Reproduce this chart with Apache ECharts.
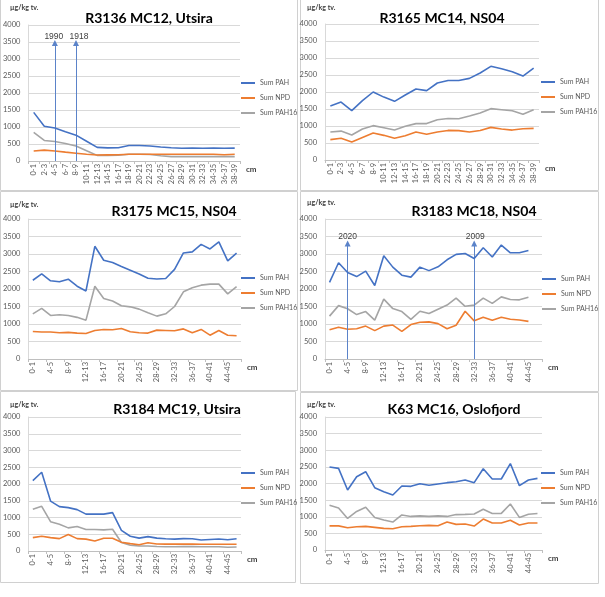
<!DOCTYPE html>
<html><head><meta charset="utf-8">
<script src="https://cdn.jsdelivr.net/npm/echarts/dist/echarts.min.js"></script>
<style>html,body{margin:0;padding:0;background:#fff}#c{width:605px;height:597px}</style>
</head><body><div id="c"></div><script>
// ---- categories (depth intervals, cm) ----
const cats20 = ['0-1','2-3','4-5','6-7','8-9','10-11','12-13','14-15','16-17','18-19','20-21','22-23','24-25','26-27','28-29','30-31','32-33','34-35','36-37','38-39'];
const cats24 = ['0-1','2-3','4-5','6-7','8-9','10-11','12-13','14-15','16-17','18-19','20-21','22-23','24-25','26-27','28-29','30-31','32-33','34-35','36-37','38-39','40-41','42-43','44-45','46-47'];
const yTicks = [0,500,1000,1500,2000,2500,3000,3500,4000];
const seriesNames = ['Sum PAH','Sum NPD','Sum PAH16'];
const titles = ['R3136 MC12, Utsira','R3165 MC14, NS04','R3175 MC15, NS04','R3183 MC18, NS04','R3184 MC19, Utsira','K63 MC16, Oslofjord'];
const yUnit = 'µg/kg tv.';
const xUnit = 'cm';

// ---- values (µg/kg tv.) ----
const pah1 = [1430,1020,970,860,760,580,400,385,390,455,455,440,410,390,375,380,375,380,375,380];
const npd1 = [295,320,295,260,230,200,175,180,185,200,200,200,200,200,200,200,200,200,185,200];
const p16_1 = [845,605,575,515,440,300,165,165,170,200,200,190,155,130,130,130,130,130,130,130];

const pah2 = [1590,1705,1450,1745,2000,1850,1725,1910,2090,2040,2265,2340,2340,2400,2560,2755,2685,2595,2470,2705];
const npd2 = [600,640,530,665,795,725,640,715,825,755,825,870,865,825,870,960,910,880,920,930];
const p16_2 = [825,850,735,910,1010,950,880,990,1070,1070,1185,1220,1215,1295,1385,1510,1480,1450,1345,1480];

const pah3 = [2250,2430,2235,2205,2280,2080,1945,3220,2820,2755,2640,2535,2430,2305,2285,2300,2560,3030,3060,3275,3145,3345,2805,3025];
const npd3 = [785,770,770,750,760,740,730,815,845,835,870,780,750,740,825,815,805,860,750,845,680,815,680,665];
const p16_3 = [1290,1445,1245,1265,1245,1190,1110,2080,1730,1655,1520,1490,1425,1320,1225,1290,1500,1920,2035,2110,2140,2140,1860,2070];

const pah4 = [2190,2750,2470,2355,2510,2100,2950,2625,2395,2340,2625,2525,2635,2835,2990,3015,2870,3180,2915,3255,3035,3035,3100,null];
const npd4 = [835,905,850,865,940,810,940,970,790,985,1050,1060,1010,865,965,1365,1090,1195,1105,1195,1135,1115,1075,null];
const p16_4 = [1225,1525,1435,1270,1355,1110,1710,1440,1355,1130,1365,1300,1420,1540,1740,1505,1540,1740,1590,1775,1700,1690,1765,null];

const pah5 = [2100,2350,1490,1325,1295,1235,1100,1105,1100,1145,615,440,385,430,385,365,355,370,365,330,345,360,335,365];
const npd5 = [400,440,400,370,490,370,355,300,380,380,260,220,185,245,210,205,205,205,205,200,200,200,200,200];
const p16_5 = [1245,1335,875,800,690,730,640,640,630,650,255,170,150,150,135,125,125,130,130,125,125,125,110,120];

const pah6 = [2495,2455,1805,2205,2355,1875,1755,1655,1925,1915,1995,1945,1985,2025,2055,2105,2025,2445,2135,2135,2600,1935,2105,2155];
const npd6 = [725,725,670,700,710,680,650,640,700,710,730,740,730,840,770,780,720,930,810,810,895,750,810,810];
const p16_6 = [1345,1265,950,1160,1285,980,900,840,1055,1010,1025,1010,1025,1010,1065,1070,1085,1225,1100,1100,1385,980,1075,1100];

// ---- dating arrows: [category, label] ----
const arrows1 = [['4-5','1990'],['8-9','1918']];
const arrows4 = [['4-5','2020'],['32-33','2009']];
const arrowTop1 = 3470, arrowTop4 = 3300;

const colors = ['#4472C4','#ED7D31','#A5A5A5'];
const FONT = 'Lato, "Liberation Sans", sans-serif';

const panels = [
  {cats:cats20, data:[pah1,npd1,p16_1], grid:{left:27,top:25,width:213,height:136}, title:[144,6], legend:[241,78], interval:0, yName:[10,4], arrows:arrows1, arrowTop:arrowTop1, arrowDx:[-1,3], box:[0,-1,297,191]},
  {cats:cats20, data:[pah2,npd2,p16_2], grid:{left:325,top:24,width:214,height:136}, title:[437,6], legend:[541,77], interval:0, yName:[307,4], box:[300,-1,298,191]},
  {cats:cats24, data:[pah3,npd3,p16_3], grid:{left:27,top:219,width:214,height:140}, title:[169,199], legend:[241,273], interval:1, yName:[10,201], box:[0,191,297,199]},
  {cats:cats24, data:[pah4,npd4,p16_4], grid:{left:325,top:219,width:217,height:140}, title:[469,199], legend:[542,274], interval:1, yName:[307,199], arrows:arrows4, arrowTop:arrowTop4, arrowDx:[0,1], box:[300,191,298,200]},
  {cats:cats24, data:[pah5,npd5,p16_5], grid:{left:27,top:417,width:214,height:134}, title:[172,397], legend:[241,468], interval:1, yName:[10,401], box:[0,391,295,191]},
  {cats:cats24, data:[pah6,npd6,p16_6], grid:{left:325,top:417,width:217,height:133}, title:[449,397], legend:[541,468], interval:1, yName:[307,401], box:[300,392,298,191]}
];

const option = {animation:false, textStyle:{fontFamily:FONT}, grid:[], xAxis:[], yAxis:[], series:[], title:[], legend:[], graphic:[]};

panels.forEach((p,i)=>{
  option.grid.push(Object.assign({containLabel:false}, p.grid));
  option.title.push({text:titles[i], left:p.title[0], top:p.title[1], textAlign:'center',
    textStyle:{fontFamily:FONT, fontSize:14, fontWeight:'bold', color:'#000'}});
  option.legend.push({orient:'vertical', left:p.legend[0], top:p.legend[1], padding:0, itemGap:5,
    itemWidth:14, itemHeight:2, itemTextGap:3, icon:'rect', selectedMode:false, data:seriesNames,
    textStyle:{fontFamily:FONT, fontSize:7, color:'#595959', lineHeight:10}});
  option.xAxis.push({type:'category', gridIndex:i, data:p.cats, boundaryGap:true,
    name:xUnit, nameLocation:'end', nameGap:6,
    nameTextStyle:{fontFamily:FONT, fontSize:8, fontWeight:'bold', color:'#404040', verticalAlign:'top', padding:[4,0,0,0]},
    axisLine:{lineStyle:{color:'#bfbfbf'}}, axisTick:{show:true, length:3, lineStyle:{color:'#bfbfbf'}},
    axisLabel:{interval:p.interval, rotate:90, fontSize:7.5, color:'#595959', margin:3, fontFamily:FONT}});
  option.yAxis.push({type:'value', gridIndex:i, min:yTicks[0], max:yTicks[yTicks.length-1], interval:yTicks[1]-yTicks[0],
    axisLine:{show:true, lineStyle:{color:'#d9d9d9'}}, axisTick:{show:false},
    splitLine:{lineStyle:{color:'#d9d9d9', width:1}},
    axisLabel:{fontSize:7.5, color:'#595959', margin:8, fontFamily:FONT, formatter:v=>String(v)}});
  seriesNames.forEach((n,k)=>{
    const s = {type:'line', name:n, xAxisIndex:i, yAxisIndex:i, data:p.data[k], showSymbol:false, symbol:'none',
      color:colors[k], lineStyle:{width:1.6, color:colors[k]}, emphasis:{disabled:true}, z:5-k};
    if (k===0 && p.arrows) {
      s.markLine = {silent:true, symbol:['none','triangle'], symbolSize:6, animation:false,
        lineStyle:{color:'#5b83c9', width:1, type:'solid'},
        label:{show:true, position:'end', formatter:'{b}', color:'#404040', fontSize:8.5, fontFamily:'"Liberation Sans", sans-serif', distance:2},
        emphasis:{disabled:true},
        data:p.arrows.map((a,j)=>[{coord:[a[0],0], name:a[1], label:{offset:[p.arrowDx[j],0]}},{coord:[a[0],p.arrowTop]}])};
    }
    option.series.push(s);
  });
  option.graphic.push({type:'text', left:p.yName[0], top:p.yName[1], silent:true,
    style:{text:yUnit, fontFamily:FONT, fontSize:7, fontWeight:'bold', fill:'#404040'}});
  option.graphic.push({type:'rect', shape:{x:p.box[0]+0.5, y:p.box[1]+0.5, width:p.box[2], height:p.box[3]},
    style:{fill:'none', stroke:'#d0d0d0', lineWidth:1}, silent:true, z:-1});
});

const chart = echarts.init(document.getElementById('c'), null, {renderer:'canvas'});
chart.setOption(option);
</script></body></html>
